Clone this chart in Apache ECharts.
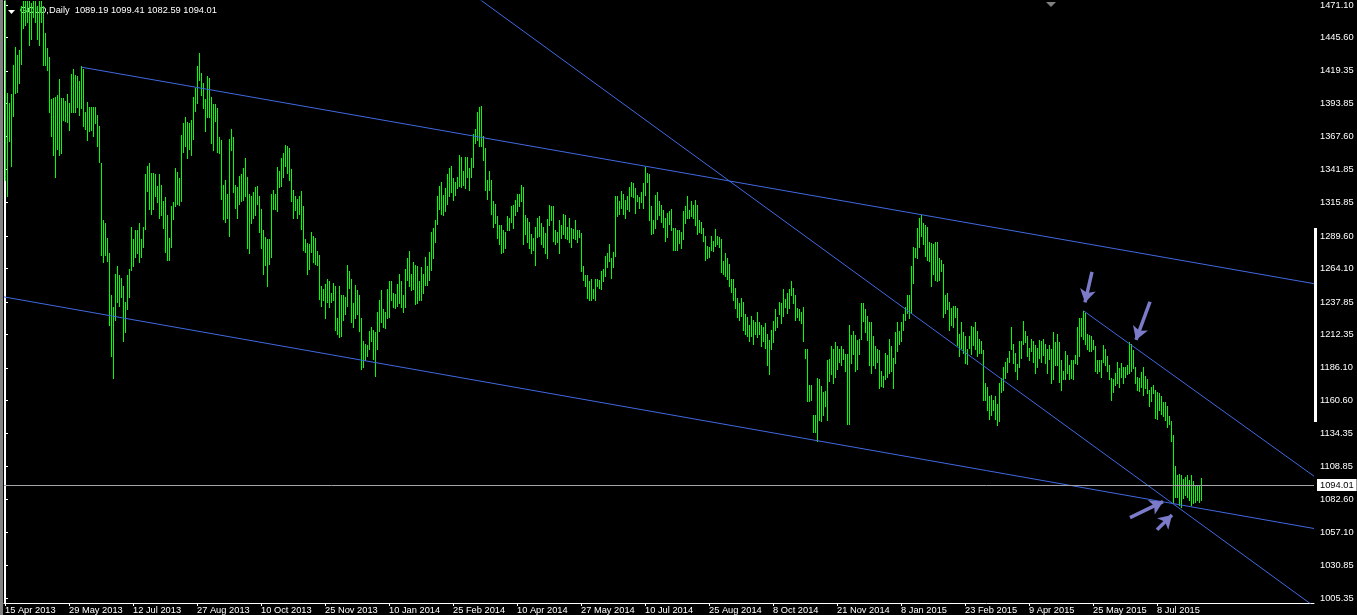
<!DOCTYPE html>
<html><head><meta charset="utf-8">
<script src="https://cdn.jsdelivr.net/npm/echarts@6/dist/echarts.min.js"></script>
<style>html,body{margin:0;padding:0;background:#000;overflow:hidden}#c{width:1357px;height:615px;}</style>
</head><body><div id="c"></div>
<script>
// ---------- data ----------
const symbolName = 'GOLD,Daily';
const lastBar = [1089.19, 1099.41, 1082.59, 1094.01]; // open high low close of last bar

// daily highs, one per bar from 15 Apr 2013 (bar 0) to 7 Aug 2015 (bar 598)
const highs = [
1480,1402,1394,1401,1424,1438,1432,1436,1470,1487,
1478,1478,1477,1473,1488,1477,1470,1476,1474,1470,
1449,1437,1430,1397,1398,1399,1400,1413,1398,1398,
1396,1401,1394,1417,1421,1416,1415,1411,1423,1421,
1387,1395,1391,1391,1391,1391,1385,1376,1347,1302,
1300,1288,1276,1243,1234,1260,1266,1259,1257,1250,
1238,1259,1264,1297,1287,1294,1294,1300,1287,1297,
1338,1345,1347,1339,1339,1338,1329,1338,1330,1317,
1320,1306,1288,1313,1316,1343,1340,1335,1369,1378,
1383,1379,1378,1381,1399,1406,1423,1433,1418,1410,
1397,1415,1414,1399,1393,1393,1390,1367,1365,1330,
1334,1323,1366,1374,1367,1330,1328,1337,1338,1343,
1351,1336,1323,1321,1324,1328,1329,1321,1311,1294,
1289,1287,1287,1323,1326,1323,1344,1341,1351,1355,
1361,1360,1359,1342,1326,1321,1319,1321,1325,1313,
1287,1284,1283,1293,1290,1288,1278,1275,1250,1248,
1252,1256,1254,1245,1253,1250,1225,1250,1243,1243,
1242,1267,1262,1256,1237,1251,1247,1243,1225,1207,
1205,1204,1215,1218,1216,1214,1230,1239,1247,1232,
1230,1248,1254,1254,1245,1244,1252,1260,1254,1243,
1264,1272,1278,1260,1269,1267,1266,1254,1265,1260,
1273,1266,1277,1293,1296,1302,1321,1329,1332,1322,
1327,1338,1343,1345,1335,1332,1336,1353,1352,1341,
1352,1352,1343,1351,1370,1374,1387,1391,1392,1368,
1359,1334,1341,1334,1317,1315,1305,1298,1298,1294,
1293,1305,1304,1313,1314,1318,1323,1323,1330,1328,
1306,1304,1301,1291,1288,1297,1304,1305,1300,1297,
1292,1303,1314,1313,1313,1294,1293,1302,1298,1307,
1306,1297,1304,1296,1295,1302,1294,1294,1292,1266,
1259,1259,1254,1256,1248,1256,1256,1255,1262,1264,
1274,1276,1283,1272,1277,1321,1321,1317,1325,1323,
1318,1321,1328,1332,1331,1327,1322,1320,1324,1331,
1344,1339,1338,1313,1302,1322,1324,1317,1314,1310,
1304,1308,1309,1311,1296,1296,1294,1294,1293,1309,
1313,1321,1310,1317,1314,1318,1314,1302,1301,1296,
1290,1282,1281,1290,1286,1295,1290,1289,1287,1270,
1276,1272,1268,1256,1256,1249,1241,1237,1241,1238,
1228,1226,1220,1227,1224,1222,1230,1222,1220,1218,
1221,1213,1208,1216,1223,1232,1226,1238,1237,1248,
1240,1245,1248,1254,1249,1243,1233,1232,1230,1234,
1201,1201,1173,1173,1149,1149,1178,1177,1172,1167,
1168,1192,1193,1203,1201,1206,1203,1201,1203,1201,
1197,1197,1220,1212,1215,1212,1208,1209,1237,1237,
1232,1227,1222,1222,1211,1203,1201,1200,1184,1180,
1198,1196,1209,1203,1194,1214,1222,1215,1222,1228,
1234,1243,1243,1266,1281,1280,1296,1304,1306,1300,
1298,1297,1285,1284,1283,1285,1285,1272,1271,1268,
1243,1245,1238,1233,1235,1235,1233,1213,1222,1214,
1211,1201,1211,1219,1218,1222,1215,1209,1207,1200,
1174,1171,1164,1165,1161,1164,1158,1174,1178,1187,
1191,1194,1199,1218,1205,1198,1189,1207,1207,1223,
1215,1211,1202,1209,1207,1204,1202,1208,1207,1209,
1205,1201,1204,1201,1214,1206,1213,1206,1192,1184,
1199,1196,1188,1192,1192,1196,1218,1225,1225,1231,
1229,1213,1212,1211,1208,1203,1192,1192,1192,1204,
1201,1195,1188,1178,1177,1182,1191,1186,1190,1187,
1187,1188,1206,1205,1200,1187,1179,1178,1183,1187,
1180,1177,1169,1171,1173,1169,1167,1166,1164,1159,
1159,1156,1148,1144,1133,1109,1102,1103,1102,1099,
1100,1102,1098,1102,1097,1094,1093,1094,1099.41
];

// daily lows, same bars
const lows = [
1334,1321,1364,1345,1384,1402,1403,1410,1425,1453,
1455,1458,1440,1444,1462,1458,1444,1440,1458,1424,
1424,1420,1387,1368,1353,1336,1358,1353,1355,1381,
1380,1379,1373,1387,1387,1387,1391,1385,1390,1376,
1374,1365,1372,1373,1368,1378,1360,1348,1275,1269,
1275,1270,1220,1195,1178,1224,1238,1235,1242,1207,
1214,1232,1242,1263,1266,1273,1276,1269,1273,1281,
1295,1325,1311,1307,1311,1321,1316,1304,1306,1296,
1277,1271,1271,1281,1303,1313,1315,1314,1317,1356,
1360,1351,1358,1353,1366,1388,1394,1412,1400,1390,
1372,1383,1383,1363,1357,1380,1356,1355,1319,1303,
1301,1304,1290,1357,1324,1312,1304,1315,1317,1318,
1321,1280,1276,1300,1304,1306,1315,1293,1280,1260,
1267,1250,1268,1273,1311,1311,1309,1328,1329,1336,
1345,1339,1334,1317,1304,1310,1304,1307,1295,1279,
1277,1260,1264,1277,1269,1268,1267,1240,1235,1239,
1225,1238,1234,1238,1239,1216,1213,1210,1211,1224,
1228,1235,1249,1222,1218,1225,1228,1215,1185,1187,
1192,1195,1201,1207,1193,1180,1201,1215,1222,1218,
1217,1225,1226,1239,1234,1233,1235,1237,1234,1230,
1234,1255,1250,1247,1248,1236,1237,1239,1239,1245,
1251,1251,1255,1263,1272,1285,1299,1311,1307,1306,
1309,1315,1321,1324,1318,1322,1327,1329,1328,1330,
1327,1336,1326,1336,1344,1363,1365,1360,1360,1349,
1326,1319,1326,1307,1297,1300,1288,1283,1276,1277,
1280,1294,1294,1301,1296,1306,1309,1313,1317,1283,
1291,1285,1280,1276,1279,1267,1289,1290,1283,1281,
1276,1272,1298,1302,1286,1283,1285,1276,1288,1291,
1288,1287,1285,1281,1288,1287,1285,1289,1262,1255,
1250,1241,1239,1239,1241,1239,1250,1249,1248,1254,
1258,1265,1270,1257,1265,1274,1305,1307,1312,1307,
1304,1311,1309,1321,1320,1308,1317,1312,1316,1312,
1322,1332,1302,1291,1292,1296,1303,1306,1301,1297,
1286,1289,1299,1294,1279,1279,1279,1284,1280,1287,
1300,1304,1304,1305,1304,1298,1291,1293,1292,1286,
1271,1272,1273,1279,1278,1282,1283,1281,1261,1260,
1258,1256,1250,1246,1239,1233,1226,1224,1227,1216,
1213,1211,1207,1211,1205,1213,1210,1213,1203,1207,
1202,1188,1181,1201,1206,1216,1218,1228,1221,1227,
1234,1229,1233,1243,1237,1224,1226,1224,1221,1207,
1194,1160,1160,1161,1136,1136,1129,1145,1144,1149,
1156,1145,1176,1181,1174,1179,1185,1191,1188,1193,
1184,1142,1142,1190,1197,1184,1185,1197,1209,1223,
1214,1208,1188,1182,1188,1186,1191,1170,1172,1171,
1177,1179,1182,1184,1170,1190,1199,1205,1207,1216,
1224,1229,1225,1229,1253,1273,1272,1281,1290,1283,
1274,1271,1270,1250,1260,1255,1254,1255,1262,1226,
1229,1232,1216,1220,1218,1226,1204,1195,1202,1198,
1190,1189,1202,1197,1204,1201,1195,1198,1198,1161,
1161,1153,1146,1149,1153,1146,1141,1144,1167,1169,
1178,1183,1191,1201,1190,1184,1177,1187,1194,1205,
1206,1195,1192,1199,1191,1182,1187,1194,1191,1196,
1190,1182,1193,1174,1177,1188,1188,1175,1169,1177,
1177,1182,1177,1178,1177,1190,1189,1195,1211,1209,
1205,1201,1199,1199,1201,1184,1182,1184,1179,1191,
1188,1184,1177,1161,1167,1173,1174,1171,1179,1174,
1179,1181,1182,1184,1186,1174,1169,1168,1171,1165,
1170,1166,1156,1160,1166,1147,1146,1153,1150,1148,
1145,1140,1142,1129,1080,1085,1085,1078,1077,1084,
1086,1085,1082,1078,1080,1081,1082,1081,1082.59
];

const dateLabels = ['15 Apr 2013','29 May 2013','12 Jul 2013','27 Aug 2013','10 Oct 2013','25 Nov 2013',
  '10 Jan 2014','25 Feb 2014','10 Apr 2014','27 May 2014','10 Jul 2014','25 Aug 2014','8 Oct 2014',
  '21 Nov 2014','8 Jan 2015','23 Feb 2015','9 Apr 2015','25 May 2015','8 Jul 2015'];
const dateLabelBars = [0,32,64,96,128,160,192,224,256,288,320,352,384,416,448,480,512,544,576];

const priceTicks = [1471.10,1445.60,1419.35,1393.85,1367.60,1341.85,1315.85,1289.60,1264.10,1237.85,
  1212.35,1186.10,1160.60,1134.35,1108.85,1082.60,1057.10,1030.85,1005.35];

// trend lines: [barIndex, price] start and end
const trendLines = [
  [[38.35, 1422.2], [654.5, 1252.2]],
  [[-0.5, 1241.8], [654.5, 1059.9]],
  [[230, 1483.9], [654.5, 998.8]],
  [[539.15, 1231.0], [654.5, 1101.0]]
];
// arrows: [barIndex, price] tail and head
const arrowMarks = [
  [[543.5, 1261.5], [540, 1237.5]],
  [[572.5, 1238.0], [565.5, 1208.0]],
  [[562.5, 1068.5], [579, 1081.0]],
  [[576, 1059.0], [583.5, 1070.5]]
];

// ---------- chart ----------
const FONT = "'Liberation Sans',Arial,sans-serif";
const FS = 9.3;
const chart = echarts.init(document.getElementById('c'), null, {renderer: 'canvas'});

function renderBar(params, api) {
  const cs = params.coordSys;
  const i = api.value(0);
  const top = api.coord([i, api.value(1)]);
  const bot = api.coord([i, api.value(2)]);
  let y1 = Math.max(cs.y, Math.round(top[1]));
  let y2 = Math.min(cs.y + cs.height, Math.round(bot[1]));
  if (y2 < y1) return null;
  return {type: 'rect', shape: {x: Math.floor(top[0]), y: y1, width: 1, height: Math.max(1, y2 - y1 + 1)},
    style: {fill: '#00ff00'}};
}

const series = [];
series.push({
  type: 'line', data: [[-0.5, lastBar[3]]], symbol: 'none', silent: true, z: 1,
  markLine: {
    silent: true, symbol: 'none', animation: false,
    data: [{yAxis: lastBar[3]}],
    lineStyle: {color: '#a4a4aa', type: 'solid', width: 1},
    label: {show: true, position: 'end', distance: 3, formatter: lastBar[3].toFixed(2),
      backgroundColor: '#ffffff', color: '#000000', padding: [2, 3, 1, 3],
      fontFamily: FONT, fontSize: FS}
  }
});
series.push({
  type: 'custom', renderItem: renderBar, z: 3, silent: true,
  data: highs.map((h, i) => [i, h, lows[i]]),
  encode: {x: 0, y: [1, 2]}
});
trendLines.forEach(tl => series.push({
  type: 'line', data: tl, symbol: 'none', silent: true, z: 4, clip: true,
  lineStyle: {color: '#4169e1', width: 1}
}));
series.push({
  type: 'line', data: [[-0.5, lastBar[3]]], symbol: 'none', silent: true, z: 5,
  markLine: {
    silent: true, animation: false, symbol: ['none', 'arrow'], symbolSize: [12, 13],
    label: {show: false},
    lineStyle: {color: '#7b7bc9', type: 'solid', width: 3.5, opacity: 1},
    data: arrowMarks.map(a => [{coord: a[0]}, {coord: a[1]}])
  }
});

chart.setOption({
  backgroundColor: '#000000',
  animation: false,
  grid: {left: 4, right: 43, top: 1, bottom: 12, show: false},
  xAxis: {
    type: 'value', min: -0.5, max: 654.5,
    splitLine: {show: false},
    axisLine: {show: true, onZero: false, lineStyle: {color: '#ffffff', width: 1}},
    axisTick: {show: true, customValues: dateLabelBars, length: 3, lineStyle: {color: '#ffffff'}},
    axisLabel: {show: true, customValues: dateLabelBars, align: 'left', margin: 3,
      color: '#ffffff', fontFamily: FONT, fontSize: FS,
      formatter: v => dateLabels[dateLabelBars.indexOf(Math.round(v))] || ''}
  },
  yAxis: [{
    type: 'value', position: 'right', min: 1001.4, max: 1474.2, scale: true,
    splitLine: {show: false},
    axisLine: {show: true, lineStyle: {color: '#ffffff', width: 1}},
    axisTick: {show: true, customValues: priceTicks, length: 3, lineStyle: {color: '#ffffff'}},
    axisLabel: {show: true, customValues: priceTicks, margin: 6, color: '#ffffff',
      fontFamily: FONT, fontSize: FS, formatter: v => v.toFixed(2)}
  }, {
    type: 'value', position: 'left', min: 1001.4, max: 1474.2,
    splitLine: {show: false}, axisTick: {show: false}, axisLabel: {show: false},
    axisLine: {show: true, lineStyle: {color: '#ffffff', width: 1}}
  }],
  graphic: [
    {type: 'rect', shape: {x: 0, y: 0, width: 3, height: 615}, style: {fill: '#808080'}},
    {type: 'rect', shape: {x: 1314, y: 228, width: 3, height: 194}, style: {fill: '#ffffff'}},
    {type: 'polygon', shape: {points: [[8, 10], [15, 10], [11.5, 14]]}, style: {fill: '#ffffff'}},
    {type: 'text', left: 20, top: 6, style: {
      text: symbolName + '  ' + lastBar.map(v => v.toFixed(2)).join(' '),
      fill: '#ffffff', font: FS + 'px ' + FONT}},
    {type: 'polygon', shape: {points: [[1046, 2], [1056, 2], [1051, 7]]}, style: {fill: '#808080'}}
  ],
  series: series
});
</script>
</body></html>
